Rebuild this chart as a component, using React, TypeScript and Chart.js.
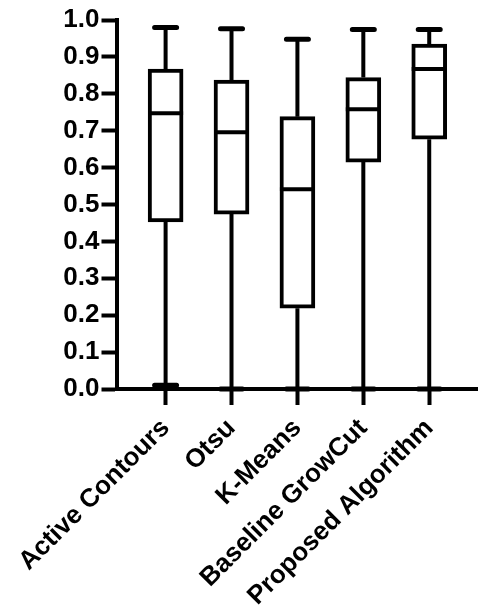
import { useEffect, useRef } from "react";
import { Chart, registerables } from "chart.js";

Chart.register(...registerables);

const categories = ["Active Contours", "Otsu", "K-Means", "Baseline GrowCut", "Proposed Algorithm"];
const minValues = [0.01, 0.0, 0.0, 0.0, 0.0];
const q1Values = [0.453, 0.474, 0.219, 0.615, 0.677];
const medianValues = [0.747, 0.696, 0.541, 0.758, 0.867];
const q3Values = [0.867, 0.837, 0.738, 0.844, 0.935];
const maxValues = [0.98, 0.976, 0.948, 0.974, 0.974];
const yTickValues = [0, 0.1, 0.2, 0.3, 0.4, 0.5, 0.6, 0.7, 0.8, 0.9, 1.0];

const FONT = "'Liberation Sans', Arial, Helvetica, sans-serif";
const BOX_WIDTH = 35;
const CAP_WIDTH = 22;

const boxPlugin = {
  id: "boxWhiskers",
  beforeDatasetsDraw(chart: any) {
    const { ctx, scales } = chart;
    const xs = scales.x;
    const ys = scales.y;
    ctx.save();
    ctx.strokeStyle = "#000";
    ctx.lineWidth = 4;
    ctx.lineCap = "butt";
    categories.forEach((_, i) => {
      const x = xs.getPixelForValue(i + 1);
      ctx.beginPath();
      ctx.moveTo(x, ys.getPixelForValue(minValues[i]));
      ctx.lineTo(x, ys.getPixelForValue(q1Values[i]));
      ctx.moveTo(x, ys.getPixelForValue(q3Values[i]));
      ctx.lineTo(x, ys.getPixelForValue(maxValues[i]));
      ctx.stroke();
    });
    ctx.restore();
  },
  afterDatasetsDraw(chart: any) {
    const { ctx, scales } = chart;
    const xs = scales.x;
    const ys = scales.y;
    ctx.save();
    ctx.strokeStyle = "#000";
    categories.forEach((_, i) => {
      const x = xs.getPixelForValue(i + 1);
      ctx.lineWidth = 4;
      ctx.lineCap = "butt";
      const ym = ys.getPixelForValue(medianValues[i]);
      ctx.beginPath();
      ctx.moveTo(x - BOX_WIDTH / 2, ym);
      ctx.lineTo(x + BOX_WIDTH / 2, ym);
      ctx.stroke();
      ctx.lineWidth = 5;
      ctx.lineCap = "round";
      ctx.beginPath();
      const yMax = ys.getPixelForValue(maxValues[i]);
      const yMin = ys.getPixelForValue(minValues[i]);
      ctx.moveTo(x - CAP_WIDTH / 2, yMax);
      ctx.lineTo(x + CAP_WIDTH / 2, yMax);
      ctx.moveTo(x - CAP_WIDTH / 2, yMin);
      ctx.lineTo(x + CAP_WIDTH / 2, yMin);
      ctx.stroke();
    });
    ctx.restore();
  },
};

export default function App() {
  const canvasRef = useRef<HTMLCanvasElement | null>(null);

  useEffect(() => {
    if (!canvasRef.current) return;
    const chart = new Chart(canvasRef.current, {
      type: "bar",
      data: {
        datasets: [
          {
            label: "IQR",
            data: categories.map((_, i) => ({ x: i + 1, y: [q1Values[i], q3Values[i]] })) as any,
            backgroundColor: "#ffffff",
            borderColor: "#000000",
            borderWidth: 4,
            borderSkipped: false,
            barThickness: BOX_WIDTH,
          },
        ],
      },
      options: {
        animation: false,
        responsive: false,
        events: [],
        layout: { padding: { top: 20, right: 0, left: 0, bottom: 0 } },
        plugins: {
          legend: { display: false },
          tooltip: { enabled: false },
        },
        scales: {
          x: {
            type: "linear",
            offset: false,
            min: 0.27,
            max: 5.74,
            afterBuildTicks: (scale: any) => {
              scale.ticks = categories.map((_, i) => ({ value: i + 1 }));
            },
            afterFit: (scale: any) => {
              scale.height = 226;
            },
            ticks: {
              autoSkip: false,
              minRotation: 45,
              maxRotation: 45,
              padding: 8,
              color: "#000",
              font: { family: FONT, size: 26, weight: "bold" },
              callback: (_v: any, i: number) => categories[i],
            },
            grid: {
              offset: false,
              drawOnChartArea: false,
              drawTicks: true,
              tickLength: 16,
              tickWidth: 4,
              tickColor: "#000",
            },
            border: { display: true, width: 4, color: "#000" },
          },
          y: {
            type: "linear",
            min: 0,
            max: 1,
            afterBuildTicks: (scale: any) => {
              scale.ticks = yTickValues.map((v) => ({ value: v }));
            },
            afterFit: (scale: any) => {
              scale.width = 117;
            },
            ticks: {
              padding: 2,
              color: "#000",
              font: { family: FONT, size: 26, weight: "bold" },
              callback: (v: any) => Number(v).toFixed(1),
            },
            grid: {
              drawOnChartArea: false,
              drawTicks: true,
              tickLength: 16,
              tickWidth: 4,
              tickColor: "#000",
            },
            border: { display: true, width: 4, color: "#000" },
          },
        },
      },
      plugins: [boxPlugin],
    });
    return () => chart.destroy();
  }, []);

  return (
    <div style={{ position: "absolute", left: 0, top: 0, width: 478, height: 615, background: "#fff" }}>
      <canvas ref={canvasRef} width={478} height={615} />
    </div>
  );
}
